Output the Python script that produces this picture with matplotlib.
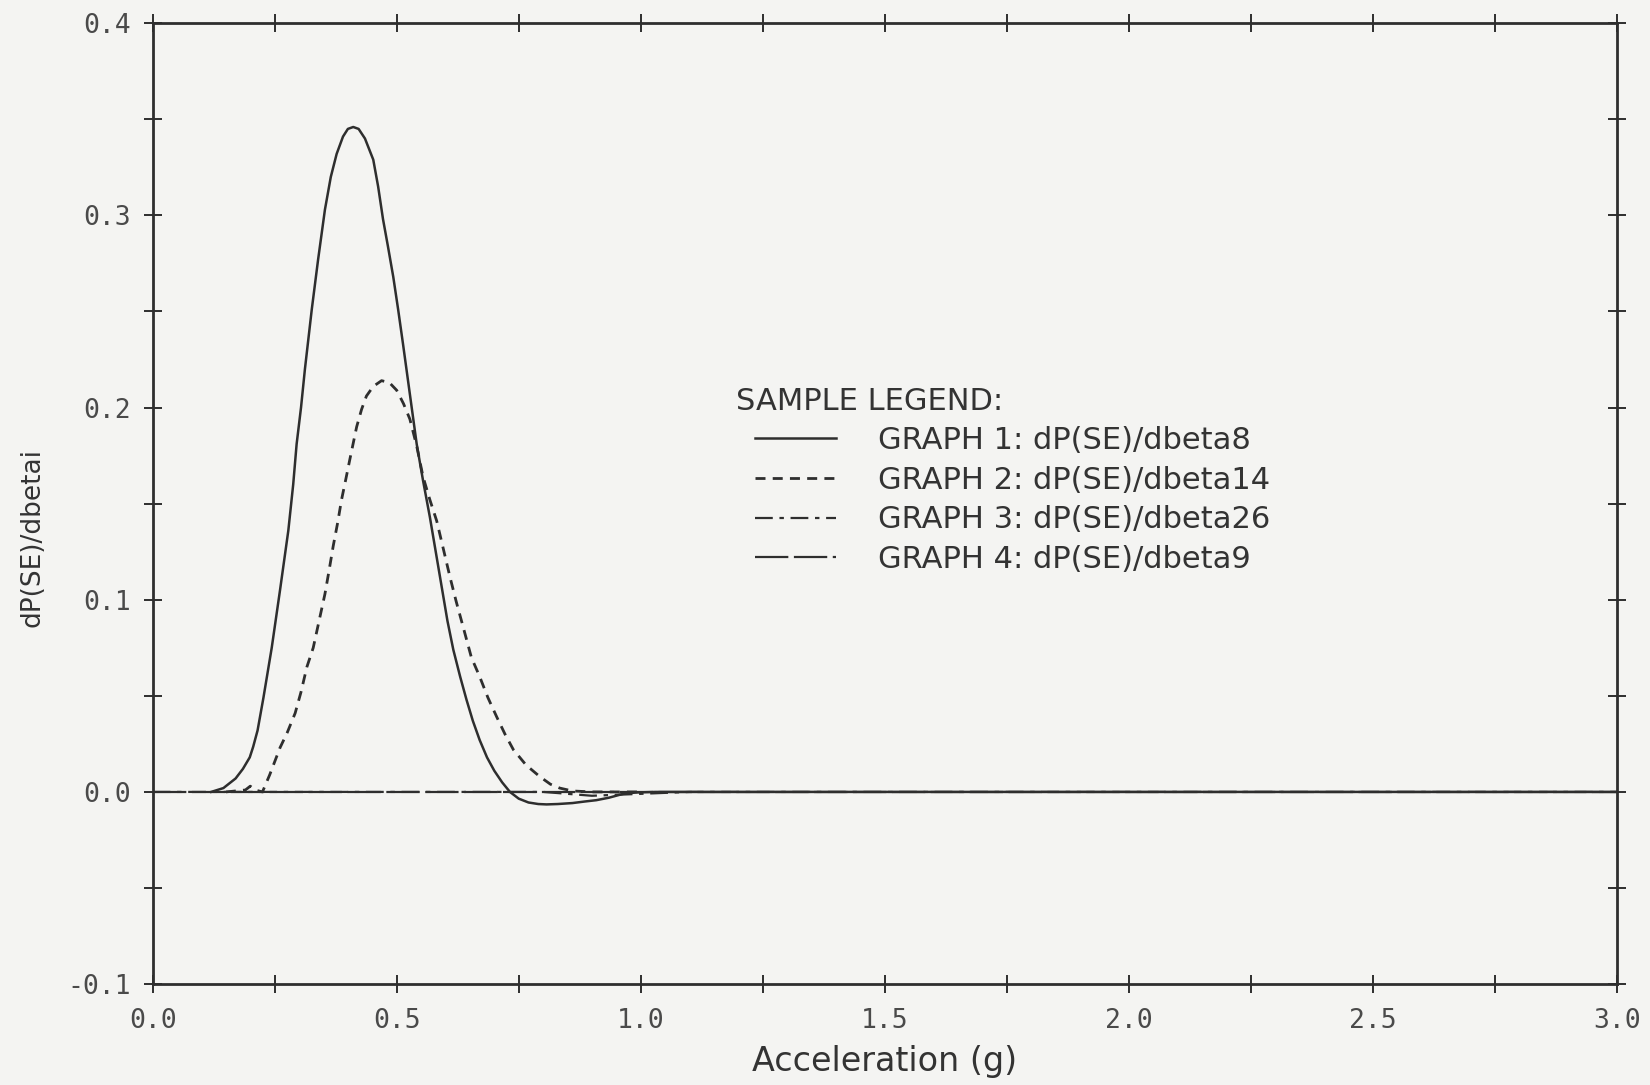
import matplotlib
matplotlib.use("Agg")
import matplotlib.pyplot as plt
from matplotlib.ticker import MultipleLocator, FormatStrFormatter

# values
g1_x = [0.12, 0.145, 0.17, 0.185, 0.199, 0.206, 0.215, 0.227, 0.244, 0.261, 0.278, 0.288,
        0.295, 0.304, 0.312, 0.326, 0.339, 0.353, 0.365, 0.377, 0.39, 0.40, 0.411, 0.422,
        0.435, 0.452, 0.462, 0.472, 0.482, 0.493, 0.503, 0.513, 0.527, 0.541, 0.554, 0.568,
        0.58, 0.592, 0.604, 0.616, 0.63, 0.643, 0.656, 0.67, 0.685, 0.70, 0.716, 0.732,
        0.75, 0.77, 0.79, 0.807, 0.83, 0.86, 0.885, 0.909, 0.935, 0.964, 0.99, 1.03,
        1.1, 1.5, 2.0, 2.5, 3.0]
g1_y = [0.0, 0.002, 0.007, 0.012, 0.018, 0.0235, 0.032, 0.049, 0.075, 0.105, 0.136, 0.160,
        0.181, 0.200, 0.220, 0.251, 0.277, 0.303, 0.320, 0.332, 0.341, 0.345, 0.346, 0.345,
        0.340, 0.329, 0.315, 0.298, 0.284, 0.268, 0.251, 0.233, 0.207, 0.181, 0.162, 0.143,
        0.125, 0.107, 0.089, 0.074, 0.060, 0.048, 0.037, 0.027, 0.018, 0.011, 0.005, 0.0,
        -0.0035, -0.0055, -0.0063, -0.0065, -0.0063, -0.0058, -0.005, -0.0043, -0.003, -0.001, -0.0003, 0.0,
        0.0, 0.0, 0.0, 0.0, 0.0]

g2_x = [0.15, 0.19, 0.2, 0.21, 0.225, 0.24, 0.261, 0.276, 0.292, 0.304, 0.316, 0.329,
        0.341, 0.353, 0.362, 0.370, 0.379, 0.387, 0.396, 0.404, 0.418, 0.428, 0.438, 0.452,
        0.469, 0.485, 0.50, 0.514, 0.527, 0.541, 0.554, 0.568, 0.582, 0.596, 0.609, 0.622,
        0.636, 0.653, 0.670, 0.687, 0.705, 0.722, 0.739, 0.765, 0.793, 0.815, 0.834, 0.86,
        0.9, 1.0]
g2_y = [0.0, 0.001, 0.003, 0.001, 0.0, 0.009, 0.023, 0.031, 0.041, 0.052, 0.065, 0.075,
        0.089, 0.103, 0.116, 0.128, 0.140, 0.152, 0.163, 0.173, 0.190, 0.199, 0.206, 0.211,
        0.214, 0.213, 0.209, 0.202, 0.194, 0.180, 0.164, 0.152, 0.141, 0.126, 0.112, 0.099,
        0.086, 0.070, 0.060, 0.049, 0.039, 0.030, 0.022, 0.014, 0.008, 0.004, 0.002, 0.0005,
        0.0, 0.0]

g3_x = [0.0, 0.8, 0.9, 1.0, 1.1, 3.0]
g3_y = [0.0, 0.0, -0.002, -0.001, 0.0, 0.0]

g4_x = [0.0, 1.0, 3.0]
g4_y = [0.0, 0.0, 0.0]

labels = ["GRAPH 1: dP(SE)/dbeta8", "GRAPH 2: dP(SE)/dbeta14",
          "GRAPH 3: dP(SE)/dbeta26", "GRAPH 4: dP(SE)/dbeta9"]

ink = "#2e2e2e"
paper = "#f4f4f2"

fig = plt.figure(figsize=(16.5, 10.85), dpi=100, facecolor=paper)
ax = fig.add_axes([0.0925, 0.093, 0.8875, 0.8856], facecolor=paper)

l3, = ax.plot(g3_x, g3_y, color=ink, lw=1.6, dashes=(8, 3, 2, 3), label=labels[2])
l4, = ax.plot(g4_x, g4_y, color=ink, lw=1.6, dashes=(15, 2.5), label=labels[3])
l2, = ax.plot(g2_x, g2_y, color=ink, lw=2.0, dashes=(3.6, 2.6), label=labels[1])
l1, = ax.plot(g1_x, g1_y, color=ink, lw=1.8, label=labels[0])

ax.set_xlim(0, 3)
ax.set_ylim(-0.1, 0.4)
ax.xaxis.set_major_locator(MultipleLocator(0.5))
ax.xaxis.set_minor_locator(MultipleLocator(0.25))
ax.yaxis.set_major_locator(MultipleLocator(0.1))
ax.yaxis.set_minor_locator(MultipleLocator(0.05))
ax.xaxis.set_major_formatter(FormatStrFormatter("%.1f"))
ax.yaxis.set_major_formatter(FormatStrFormatter("%.1f"))
ax.tick_params(which="both", direction="inout", length=13, width=1.4, color=ink,
               top=True, right=True)
ax.tick_params(axis="x", which="major", pad=11)
ax.tick_params(axis="y", which="major", pad=9)
for lab in ax.get_xticklabels() + ax.get_yticklabels():
    lab.set_fontfamily("DejaVu Sans Mono")
    lab.set_fontsize(19)
    lab.set_color("#4a4a4a")
for sp in ax.spines.values():
    sp.set_linewidth(2.0)
    sp.set_color(ink)

ax.set_xlabel("Acceleration (g)", fontsize=24, color="#333333", va="center")
ax.set_ylabel("dP(SE)/dbetai", fontsize=19, color="#333333", va="center")
ax.xaxis.set_label_coords(0.5, -0.081)
ax.yaxis.set_label_coords(-0.0823, 0.465)

ax.text(0.3987, 0.6214, "SAMPLE LEGEND:", transform=ax.transAxes, fontsize=22,
        color="#333333", va="top", ha="left")
ax.legend(handles=[l1, l2, l3, l4], loc="upper left", bbox_to_anchor=(0.4116, 0.581),
          frameon=False, fontsize=22, handlelength=2.65, handletextpad=1.35,
          labelspacing=0.35, borderpad=0, borderaxespad=0, labelcolor="#333333")

fig.savefig("out.png", dpi=100, facecolor=paper)
